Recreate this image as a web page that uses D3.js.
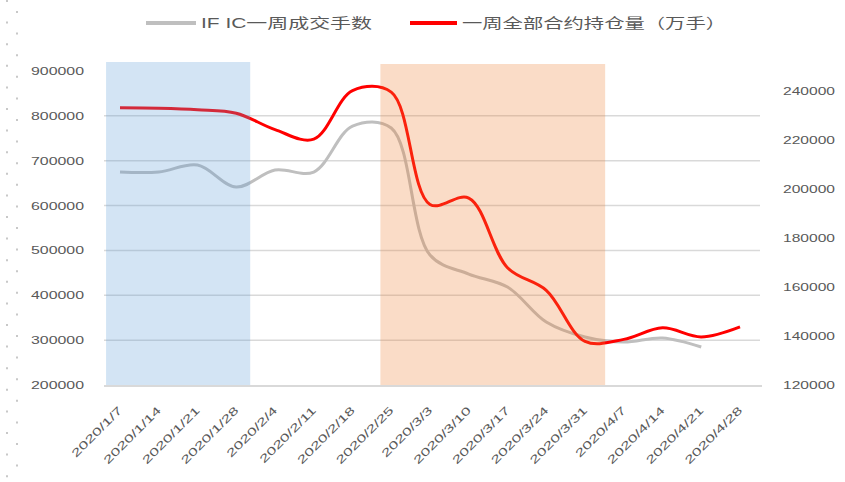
<!DOCTYPE html>
<html>
<head>
<meta charset="utf-8">
<script src="https://cdn.jsdelivr.net/npm/d3@7"></script>
<style>
  body { margin: 0; background: #fff; }
  text { font-family: "Liberation Sans", "Noto Sans CJK SC", sans-serif; fill: #595959; }
</style>
</head>
<body>
<div id="chart"></div>
<script>
// 数据
const dates = ["2020/1/7", "2020/1/14", "2020/1/21", "2020/1/28", "2020/2/4", "2020/2/11",
  "2020/2/18", "2020/2/25", "2020/3/3", "2020/3/10", "2020/3/17", "2020/3/24",
  "2020/3/31", "2020/4/7", "2020/4/14", "2020/4/21", "2020/4/28"];

// 一周成交手数 (左轴)
const volume = [674800, 674800, 690400, 641300, 679200, 674800, 777300, 772900,
  489800, 447400, 418400, 340400, 307000, 295800, 304800, 284700, null];

// 一周全部合约持仓量 (右轴)
const openInterest = [233000, 232800, 232200, 230800, 224100, 220200, 240000, 239400,
  193600, 196200, 167800, 158600, 137800, 138600, 143300, 139600, 143700];

const leftTicks = [200000, 300000, 400000, 500000, 600000, 700000, 800000, 900000];
const rightTicks = [120000, 140000, 160000, 180000, 200000, 220000, 240000];

// 阴影区间 (以日期序号计)
const bandStart = [-0.36, 6.72];
const bandEnd = [3.36, 12.52];
const bandColor = ["#5B9BD5", "#ED7D31"];

const legendNames = ["IF IC一周成交手数", "一周全部合约持仓量（万手）"];

const width = 845, height = 482;
const margin = { top: 71, bottom: 385, left: 104, right: 762 };

const svg = d3.select("#chart").append("svg")
  .attr("width", width)
  .attr("height", height);

const x = d3.scalePoint(dates, [120, 740]);
const xi = d3.scaleLinear([0, dates.length - 1], [120, 740]);
const yL = d3.scaleLinear([200000, 900000], [margin.bottom, margin.top]);
const yR = d3.scaleLinear([120000, 248000], [margin.bottom, margin.top]);

// 左边点线
[7, 17].forEach((px, k) => {
  svg.append("line")
    .attr("x1", px).attr("x2", px)
    .attr("y1", k ? 11 : 0).attr("y2", height)
    .attr("stroke", "#c8c8c8")
    .attr("stroke-width", 2)
    .attr("stroke-dasharray", "2,19.6");
});

// 网格线
svg.append("g")
  .selectAll("line")
  .data(leftTicks.filter(d => d > 200000 && d < 900000))
  .join("line")
  .attr("x1", margin.left).attr("x2", margin.right - 2)
  .attr("y1", d => yL(d)).attr("y2", d => yL(d))
  .attr("stroke", "#d9d9d9")
  .attr("stroke-width", 1.5);

svg.append("line")
  .attr("x1", margin.left).attr("x2", margin.right)
  .attr("y1", margin.bottom + 1).attr("y2", margin.bottom + 1)
  .attr("stroke", "#d9d9d9")
  .attr("stroke-width", 2);

// 左轴
svg.append("g")
  .attr("transform", `translate(84,0)`)
  .call(d3.axisLeft(yL).tickValues(leftTicks).tickSize(0).tickPadding(0).tickFormat(d3.format("d")))
  .call(g => g.select(".domain").remove())
  .call(g => g.selectAll("text")
    .attr("font-size", 11)
    .attr("dy", "0.32em")
    .attr("textLength", 53)
    .attr("lengthAdjust", "spacingAndGlyphs"));

// 右轴
svg.append("g")
  .attr("transform", `translate(783,0)`)
  .call(d3.axisRight(yR).tickValues(rightTicks).tickSize(0).tickPadding(0).tickFormat(d3.format("d")))
  .call(g => g.select(".domain").remove())
  .call(g => g.selectAll("text")
    .attr("font-size", 11)
    .attr("dy", "0.32em")
    .attr("textLength", 52)
    .attr("lengthAdjust", "spacingAndGlyphs"));

// 日期标签
svg.append("g")
  .selectAll("text")
  .data(dates)
  .join("text")
  .attr("transform", d => `translate(${x(d) + 3},${411}) rotate(-45)`)
  .attr("text-anchor", "end")
  .attr("font-size", 11)
  .text(d => d)
  .each(function () {
    const len = this.getComputedTextLength();
    d3.select(this).attr("textLength", len * 1.55).attr("lengthAdjust", "spacingAndGlyphs");
  });

// 折线
const line = (yScale) => d3.line()
  .defined(d => d != null)
  .x((d, i) => x(dates[i]))
  .y(d => yScale(d))
  .curve(d3.curveCatmullRom);

svg.append("path")
  .attr("fill", "none")
  .attr("stroke", "#bfbfbf")
  .attr("stroke-width", 3)
  .attr("stroke-linejoin", "round")
  .attr("d", line(yL)(volume));

svg.append("path")
  .attr("fill", "none")
  .attr("stroke", "#ff0000")
  .attr("stroke-width", 3)
  .attr("stroke-linejoin", "round")
  .attr("d", line(yR)(openInterest));

// 阴影区间 (半透明, 在折线之上)
svg.append("g")
  .selectAll("rect")
  .data(bandStart)
  .join("rect")
  .attr("x", (d, i) => xi(d))
  .attr("width", (d, i) => xi(bandEnd[i]) - xi(d))
  .attr("y", (d, i) => i ? 64 : 62)
  .attr("height", (d, i) => margin.bottom - (i ? 64 : 62))
  .attr("fill", (d, i) => bandColor[i])
  .attr("fill-opacity", 0.27);

// 图例
const legend = svg.append("g");
const legendX = [146, 410];
const legendLen = [50, 47];
const legendTextW = [171, 264];
const legendColor = ["#bfbfbf", "#ff0000"];
legendNames.forEach((name, i) => {
  legend.append("line")
    .attr("x1", legendX[i]).attr("x2", legendX[i] + legendLen[i])
    .attr("y1", 23).attr("y2", 23)
    .attr("stroke", legendColor[i])
    .attr("stroke-width", 4);
  legend.append("text")
    .attr("x", legendX[i] + legendLen[i] + 5)
    .attr("y", 28)
    .attr("font-size", 14)
    .attr("textLength", legendTextW[i])
    .attr("lengthAdjust", "spacingAndGlyphs")
    .text(name);
});
</script>
</body>
</html>
